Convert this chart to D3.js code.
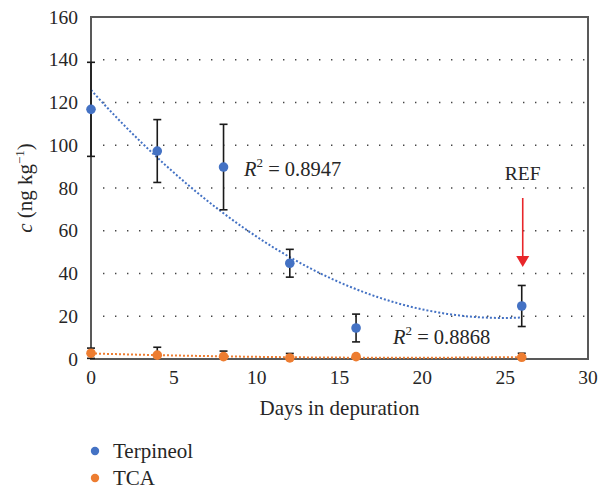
<!DOCTYPE html>
<html lang="en">
<head>
<meta charset="UTF-8">
<title>Depuration chart</title>
<script src="https://d3js.org/d3.v7.min.js"></script>
<style>
    body { margin: 0; background: #fff; }
</style>
</head>
<body>
<script>
    // data
    const days = [0, 4, 8, 12, 16, 26];
    const terpineol = [116.8, 97.3, 89.8, 44.8, 14.5, 24.8];
    const terpineolErr = [22, 14.7, 20, 6.5, 6.5, 9.6];
    const tca = [2.7, 1.8, 1.1, 0.5, 1.1, 0.8];
    const tcaErr = [2.4, 3.7, 2.6, 2.1, 0, 1.9];
    const xTicks = [0, 5, 10, 15, 20, 25, 30];
    const yTicks = [0, 20, 40, 60, 80, 100, 120, 140, 160];
    const r2Labels = ["0.8947", "0.8868"];

    const width = 602, height = 490;
    const m = {left: 91, right: 14, top: 17, bottom: 131};
    const font = "'Liberation Serif', 'Times New Roman', Times, serif";
    const tickFs = 19.5, titleFs = 21;

    const x = d3.scaleLinear().domain([0, 30]).range([m.left, width - m.right]);
    const y = d3.scaleLinear().domain([0, 160]).range([height - m.bottom, m.top]);

    const svg = d3.select("body").append("svg")
        .attr("width", width)
        .attr("height", height)
        .attr("font-family", font)
        .style("font-family", font);

    // dotted grid
    svg.append("g").selectAll("line")
        .data(yTicks.filter(t => t > 0 && t < 160))
        .enter().append("line")
        .attr("x1", x(0) + 12).attr("x2", x(30))
        .attr("y1", d => y(d)).attr("y2", d => y(d))
        .attr("stroke", "#444")
        .attr("stroke-width", 1.4)
        .attr("stroke-dasharray", "1.4,10.6");

    // frame
    svg.append("rect")
        .attr("x", x(0)).attr("y", y(160))
        .attr("width", x(30) - x(0)).attr("height", y(0) - y(160))
        .attr("fill", "none")
        .attr("stroke", "#595959")
        .attr("stroke-width", 2);

    // tick labels
    svg.append("g").selectAll("text")
        .data(yTicks)
        .enter().append("text")
        .attr("x", x(0) - 13)
        .attr("y", d => y(d) + 6.5)
        .attr("text-anchor", "end")
        .attr("font-size", tickFs)
        .attr("fill", "#262626")
        .text(d => d);

    svg.append("g").selectAll("text")
        .data(xTicks)
        .enter().append("text")
        .attr("x", d => x(d))
        .attr("y", y(0) + 24.5)
        .attr("text-anchor", "middle")
        .attr("font-size", tickFs)
        .attr("fill", "#262626")
        .text(d => d);

    // axis titles
    svg.append("text")
        .attr("x", (x(0) + x(30)) / 2)
        .attr("y", 415)
        .attr("text-anchor", "middle")
        .attr("font-size", titleFs)
        .attr("fill", "#262626")
        .text("Days in depuration");

    const yt = svg.append("text")
        .attr("transform", `translate(32,${(y(0) + y(160)) / 2}) rotate(-90)`)
        .attr("text-anchor", "middle")
        .attr("font-size", titleFs)
        .attr("fill", "#262626");
    yt.append("tspan").attr("font-style", "italic").text("c");
    yt.append("tspan").text(" (ng kg");
    yt.append("tspan").attr("font-size", 13).attr("dy", -8).text("\u22121");
    yt.append("tspan").attr("dy", 8).text(")");

    // quadratic least squares trend
    function quadFit(xs, ys) {
        const s = k => d3.sum(xs, v => Math.pow(v, k));
        const t = k => d3.sum(xs, (v, i) => Math.pow(v, k) * ys[i]);
        const A = [[s(0), s(1), s(2)], [s(1), s(2), s(3)], [s(2), s(3), s(4)]];
        const b = [t(0), t(1), t(2)];
        // gaussian elimination
        for (let i = 0; i < 3; i++) {
            for (let j = i + 1; j < 3; j++) {
                const f = A[j][i] / A[i][i];
                for (let k = i; k < 3; k++) A[j][k] -= f * A[i][k];
                b[j] -= f * b[i];
            }
        }
        const c = [0, 0, 0];
        for (let i = 2; i >= 0; i--) {
            let v = b[i];
            for (let k = i + 1; k < 3; k++) v -= A[i][k] * c[k];
            c[i] = v / A[i][i];
        }
        return v => c[0] + c[1] * v + c[2] * v * v;
    }

    const series = [
        {vals: terpineol, err: terpineolErr, color: "#4472C4", name: "Terpineol"},
        {vals: tca, err: tcaErr, color: "#ED7D31", name: "TCA"}
    ];

    const line = d3.line().x(d => x(d[0])).y(d => y(d[1]));

    series.forEach(s => {
        const f = quadFit(days, s.vals);
        const pts = d3.range(0, 26.01, 0.25).map(v => [v, f(v)]);
        svg.append("path")
            .attr("d", line(pts))
            .attr("fill", "none")
            .attr("stroke", s.color)
            .attr("stroke-width", 2)
            .attr("stroke-dasharray", "2,2");
    });

    series.forEach(s => {
        const g = svg.append("g");
        const eb = g.selectAll("g.eb")
            .data(days.map((d, i) => ({d, v: s.vals[i], e: s.err[i]})).filter(p => p.e > 0))
            .enter().append("g")
            .attr("stroke", "#1a1a1a")
            .attr("stroke-width", 1.6);
        eb.append("line")
            .attr("x1", p => x(p.d)).attr("x2", p => x(p.d))
            .attr("y1", p => y(p.v + p.e)).attr("y2", p => y(Math.max(0, p.v - p.e)));
        eb.append("line")
            .attr("x1", p => x(p.d) - 4).attr("x2", p => x(p.d) + 4)
            .attr("y1", p => y(p.v + p.e)).attr("y2", p => y(p.v + p.e));
        eb.filter(p => p.v - p.e > 0).append("line")
            .attr("x1", p => x(p.d) - 4).attr("x2", p => x(p.d) + 4)
            .attr("y1", p => y(p.v - p.e)).attr("y2", p => y(p.v - p.e));
    });

    series.forEach(s => {
        svg.append("g").selectAll("circle")
            .data(days.map((d, i) => [d, s.vals[i]]))
            .enter().append("circle")
            .attr("cx", d => x(d[0]))
            .attr("cy", d => y(d[1]))
            .attr("r", 4.8)
            .attr("fill", s.color);
    });

    // R² labels
    function r2(xp, yp, val) {
        const t = svg.append("text").attr("x", xp).attr("y", yp)
            .attr("font-size", 20.5).attr("fill", "#262626");
        t.append("tspan").attr("font-style", "italic").text("R");
        t.append("tspan").attr("font-size", 13).attr("dy", -9).text("2");
        t.append("tspan").attr("dy", 9).text(" = " + val);
    }
    r2(244, 176, r2Labels[0]);
    r2(393, 344, r2Labels[1]);

    // REF arrow
    svg.append("text")
        .attr("x", x(26) + 1)
        .attr("y", 180)
        .attr("text-anchor", "middle")
        .attr("font-size", tickFs)
        .attr("fill", "#262626")
        .text("REF");
    svg.append("line")
        .attr("x1", x(26) + 1).attr("x2", x(26) + 1)
        .attr("y1", 198).attr("y2", 258)
        .attr("stroke", "#E8262A")
        .attr("stroke-width", 1.6);
    svg.append("path")
        .attr("d", `M${x(26) + 1 - 6.5},256 L${x(26) + 1 + 6.5},256 L${x(26) + 1},267 Z`)
        .attr("fill", "#E8262A");

    // legend
    const leg = svg.append("g").selectAll("g")
        .data(series)
        .enter().append("g")
        .attr("transform", (d, i) => `translate(95,${451 + i * 27})`);
    leg.append("circle").attr("r", 4.2).attr("fill", d => d.color);
    leg.append("text")
        .attr("x", 18).attr("y", 7)
        .attr("font-size", titleFs)
        .attr("fill", "#262626")
        .text(d => d.name);
</script>
</body>
</html>
